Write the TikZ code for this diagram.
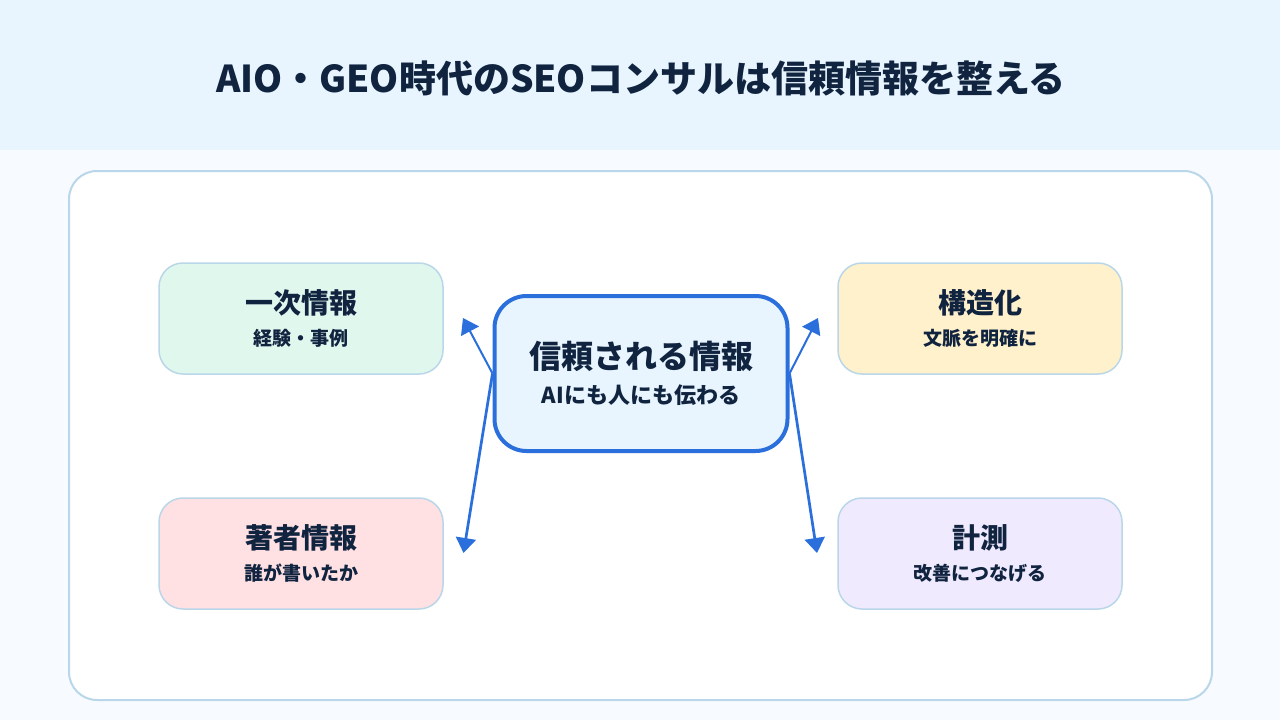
\documentclass[tikz,border=0pt]{standalone}
\usepackage{fontspec}
\setmainfont{Noto Sans CJK JP}
\usetikzlibrary{arrows.meta}
\definecolor{headbg}{HTML}{E8F5FF}
\definecolor{pagebg}{HTML}{F7FBFF}
\definecolor{edgeblue}{HTML}{B9D7E8}
\definecolor{ink}{HTML}{10233F}
\definecolor{accent}{HTML}{2A6FDB}
\definecolor{cgreen}{HTML}{E0F7EE}
\definecolor{cyellow}{HTML}{FFF1CC}
\definecolor{cred}{HTML}{FFE0E3}
\definecolor{cpurple}{HTML}{F0EAFF}
\newcommand{\headline}[1]{{\fontsize{28}{35}\selectfont\bfseries #1}\\[12pt]}
\newcommand{\subline}[1]{{\fontsize{19}{19}\selectfont\bfseries #1}}
\tikzset{
  cardbox/.style={draw=edgeblue,line width=1.5pt,rounded corners=24pt,minimum width=284pt,minimum height=111pt,inner sep=0pt,align=center,text=ink},
  hubbox/.style={draw=accent,fill=headbg,line width=4pt,rounded corners=32pt,minimum width=293pt,minimum height=155pt,inner sep=0pt,align=center,text=ink},
  linkline/.style={draw=accent,line width=2pt,-{Triangle[length=15pt,width=20pt]}},
  longlink/.style={linkline,line width=2.7pt}
}
\begin{document}
\begin{tikzpicture}[x=1pt,y=-1pt]
\useasboundingbox (0,0) rectangle (1280,720);
\fill[pagebg] (0,0) rectangle (1280,720);
\fill[headbg] (0,0) rectangle (1280,150);
\node[text=ink,inner sep=0pt] (title) at (641,78.5) {\fontsize{37}{37}\selectfont\bfseries AIO・GEO時代のSEOコンサルは信頼情報を整える};
\draw[edgeblue,fill=white,line width=2pt,rounded corners=28pt] (69,171) rectangle (1212,700);
\node[cardbox,fill=cgreen] (a) at (301,318.5) {\headline{一次情報}\subline{経験・事例}};
\node[cardbox,fill=cyellow] (b) at (980,318.5) {\headline{構造化}\subline{文脈を明確に}};
\node[cardbox,fill=cred] (c) at (301,553.5) {\headline{著者情報}\subline{誰が書いたか}};
\node[cardbox,fill=cpurple] (d) at (980,553.5) {\headline{計測}\subline{改善につなげる}};
\node[hubbox] (hub) at (641,373.5) {{\fontsize{32}{39}\selectfont\bfseries 信頼される情報}\\[12pt]{\fontsize{22}{22}\selectfont\bfseries AIにも人にも伝わる}};
\coordinate (ta) at (463,318);
\coordinate (tb) at (818,318);
\coordinate (tc) at (463.5,553);
\coordinate (td) at (817,553);
\draw[linkline] (hub.west) -- (ta);
\draw[longlink] (hub.west) -- (tc);
\draw[linkline] (hub.east) -- (tb);
\draw[longlink] (hub.east) -- (td);
\end{tikzpicture}
\end{document}
